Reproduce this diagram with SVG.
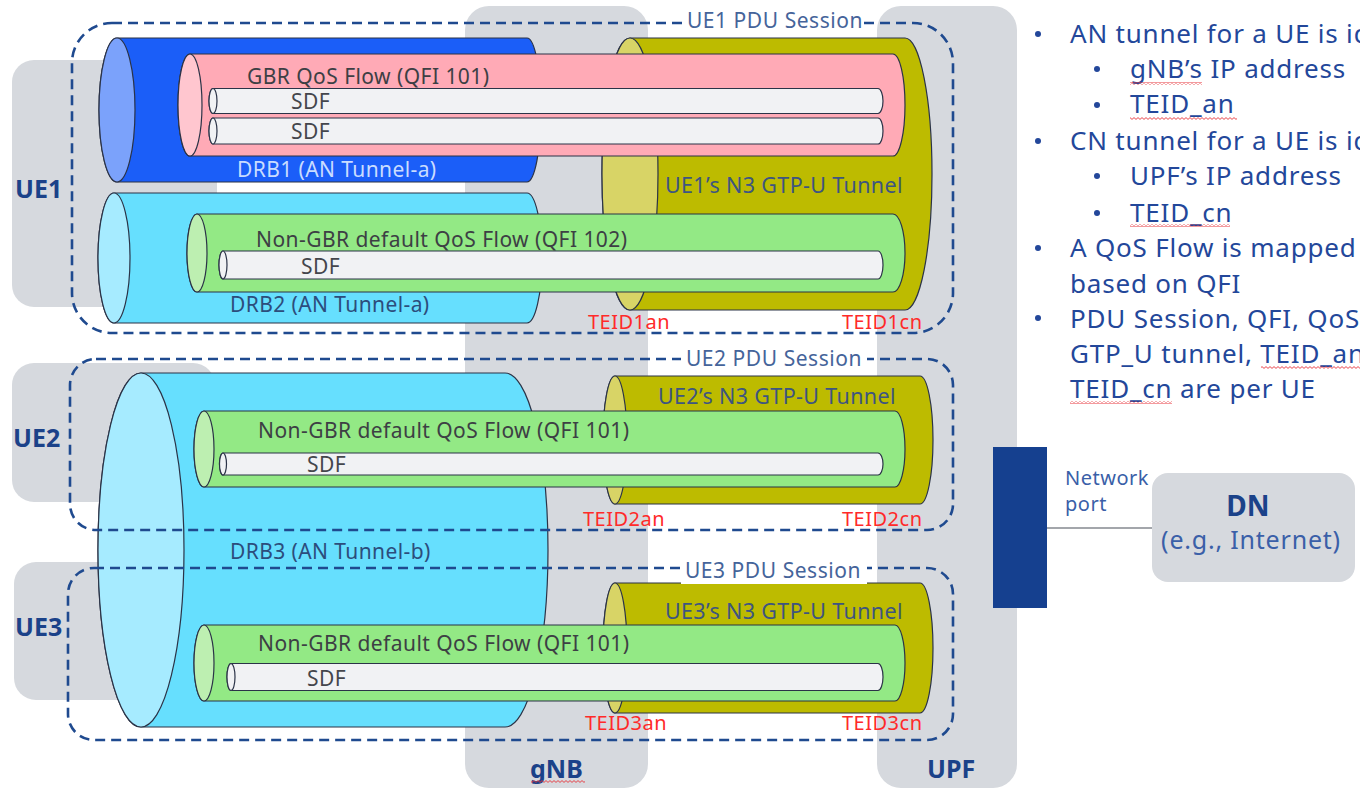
<svg xmlns="http://www.w3.org/2000/svg" width="1360" height="790" viewBox="0 0 1360 790">
  <defs>
    <pattern id="squiggle" width="4" height="3" patternUnits="userSpaceOnUse">
      <path d="M0 2.4 L2 0.6 L4 2.4" fill="none" stroke="#e8333a" stroke-width="0.9"/>
    </pattern>
  </defs>
  <style>
    text { font-family: "Noto Sans", "Open Sans", "DejaVu Sans", sans-serif; }
    .panel { fill: #d6d9de; }
    .edge { stroke: #2b3347; stroke-width: 1.2; }
    .drbA { fill: #1b5ef8; }
    .drbA-cap { fill: #7ba2fb; }
    .drbB { fill: #66dffe; }
    .drbB-cap { fill: #a6ebff; }
    .n3 { fill: #bdbb00; }
    .n3-cap { fill: #d8d466; }
    .gbr { fill: #ffaab6; }
    .gbr-cap { fill: #ffc6cf; }
    .ngbr { fill: #93e985; }
    .ngbr-cap { fill: #bdefb1; }
    .sdf { fill: #f1f2f4; }
    .session { fill: none; stroke: #1f4a8f; stroke-width: 2.6; stroke-dasharray: 10 6; }
    .sess-bg { fill: #ffffff; }
    .sess-label { font-size: 21px; letter-spacing: 0.55px; fill: #45649a; }
    .flow-label { font-size: 21px; letter-spacing: 0.45px; fill: #3d3f44; }
    .sdf-label { font-size: 21px; letter-spacing: 0.4px; fill: #44464c; }
    .drb-label { font-size: 21px; letter-spacing: 0.4px; fill: #2c4d7c; }
    .drb-label-light { font-size: 21px; letter-spacing: 0.4px; fill: #c9dcff; }
    .n3-label { font-size: 21.5px; letter-spacing: 0.35px; fill: #3d5580; }
    .teid { font-size: 20px; letter-spacing: 0.5px; fill: #ff2a2a; }
    .ue-label { font-size: 25px; font-weight: bold; fill: #1b4289; }
    .note { font-size: 26px; letter-spacing: 0.8px; fill: #23479a; }
    .bullet { fill: #23479a; }
    .squig { fill: url(#squiggle); }
  </style>

  <!-- grey background panels -->
  <g id="ue1">
    <rect class="panel" x="12" y="60" width="205" height="247" rx="22"/>
  </g>
  <g id="ue2">
    <rect class="panel" x="12" y="363" width="203" height="139" rx="22"/>
  </g>
  <g id="ue3">
    <rect class="panel" x="14" y="562" width="200" height="138" rx="22"/>
  </g>
  <g id="gnb">
    <rect class="panel" x="465" y="6" width="183" height="782" rx="24"/>
  </g>
  <g id="upf">
    <rect class="panel" x="877" y="6" width="140" height="782" rx="24"/>
  </g>
  <g id="dn">
    <rect class="panel" x="1152" y="473" width="203" height="109" rx="16"/>
    <text x="1248" y="516" text-anchor="middle" font-size="28" font-weight="bold" fill="#1b4289">DN</text>
    <text x="1251" y="549" text-anchor="middle" font-size="25" letter-spacing="0.8" fill="#3a5fa8">(e.g., Internet)</text>
  </g>

  <!-- radio bearers -->
  <g id="drb1">
    <path class="drbA edge" d="M117 38 H527 A14 72 0 0 1 527 182 H117 A18 72 0 0 1 117 38 Z"/>
    <ellipse class="drbA-cap edge" cx="117" cy="110" rx="18" ry="72"/>
  </g>
  <g id="drb2">
    <path class="drbB edge" d="M114 193 H527 A15 65 0 0 1 527 323 H114 A16 65 0 0 1 114 193 Z"/>
    <ellipse class="drbB-cap edge" cx="114" cy="258" rx="16" ry="65"/>
  </g>
  <g id="drb3">
    <path class="drbB edge" d="M141 373 H505 A43 177 0 0 1 505 727 H141 A43 177 0 0 1 141 373 Z"/>
    <ellipse class="drbB-cap edge" cx="141" cy="550" rx="43" ry="177"/>
  </g>

  <!-- N3 GTP-U tunnels -->
  <g id="n3-ue1">
    <path class="n3 edge" d="M630 38 H905 A27 136 0 0 1 905 310 H630 A28 136 0 0 1 630 38 Z"/>
    <ellipse class="n3-cap edge" cx="630" cy="174" rx="28" ry="136"/>
  </g>
  <g id="n3-ue2">
    <path class="n3 edge" d="M615 376 H920 A13 64 0 0 1 920 504 H615 A12 64 0 0 1 615 376 Z"/>
    <ellipse class="n3-cap edge" cx="615" cy="440" rx="12" ry="64"/>
  </g>
  <g id="n3-ue3">
    <path class="n3 edge" d="M615 583 H920 A13 65 0 0 1 920 713 H615 A12 65 0 0 1 615 583 Z"/>
    <ellipse class="n3-cap edge" cx="615" cy="648" rx="12" ry="65"/>
  </g>

  <!-- QoS flows and SDFs -->
  <g id="flow-ue1-gbr">
    <path class="gbr edge" d="M190 54 H893 A12 51 0 0 1 893 156 H190 A12 51 0 0 1 190 54 Z"/>
    <ellipse class="gbr-cap edge" cx="190" cy="105" rx="12" ry="51"/>
  </g>
  <g id="sdf-ue1-a">
    <path class="sdf edge" d="M213 88.5 H878 A5 12.5 0 0 1 878 113.5 H213 A4 12.5 0 0 1 213 88.5 Z"/>
    <ellipse class="sdf edge" cx="213" cy="101" rx="4" ry="12.5"/>
  </g>
  <g id="sdf-ue1-b">
    <path class="sdf edge" d="M213 118 H878 A5 13 0 0 1 878 144 H213 A4 13 0 0 1 213 118 Z"/>
    <ellipse class="sdf edge" cx="213" cy="131" rx="4" ry="13"/>
  </g>
  <g id="flow-ue1-ngbr">
    <path class="ngbr edge" d="M197 214 H893 A12 39 0 0 1 893 292 H197 A10 39 0 0 1 197 214 Z"/>
    <ellipse class="ngbr-cap edge" cx="197" cy="253" rx="10" ry="39"/>
  </g>
  <g id="sdf-ue1-c">
    <path class="sdf edge" d="M223 251 H878 A5 14 0 0 1 878 279 H223 A4 14 0 0 1 223 251 Z"/>
    <ellipse class="sdf edge" cx="223" cy="265" rx="4" ry="14"/>
  </g>
  <g id="flow-ue2">
    <path class="ngbr edge" d="M204 411 H895 A10 38 0 0 1 895 487 H204 A10 38 0 0 1 204 411 Z"/>
    <ellipse class="ngbr-cap edge" cx="204" cy="449" rx="10" ry="38"/>
  </g>
  <g id="sdf-ue2">
    <path class="sdf edge" d="M223 453 H878 A5 11 0 0 1 878 475 H223 A3.5 11 0 0 1 223 453 Z"/>
    <ellipse class="sdf edge" cx="223" cy="464" rx="3.5" ry="11"/>
  </g>
  <g id="flow-ue3">
    <path class="ngbr edge" d="M204 625 H895 A10 38 0 0 1 895 701 H204 A10 38 0 0 1 204 625 Z"/>
    <ellipse class="ngbr-cap edge" cx="204" cy="663" rx="10" ry="38"/>
  </g>
  <g id="sdf-ue3">
    <path class="sdf edge" d="M231 663.5 H878 A5 13.5 0 0 1 878 690.5 H231 A4 13.5 0 0 1 231 663.5 Z"/>
    <ellipse class="sdf edge" cx="231" cy="677" rx="4" ry="13.5"/>
  </g>

  <!-- labels inside the pipes -->
  <g id="pipe-labels">
    <text class="flow-label" x="247" y="84">GBR QoS Flow (QFI 101)</text>
    <text class="sdf-label" x="291" y="109">SDF</text>
    <text class="sdf-label" x="291" y="139">SDF</text>
    <text class="drb-label-light" x="237" y="177">DRB1 (AN Tunnel-a)</text>
    <text class="n3-label" x="665" y="193">UE1’s N3 GTP-U Tunnel</text>
    <text class="flow-label" x="256" y="247">Non-GBR default QoS Flow (QFI 102)</text>
    <text class="sdf-label" x="301" y="274">SDF</text>
    <text class="drb-label" x="230" y="312">DRB2 (AN Tunnel-a)</text>
    <text class="n3-label" x="658" y="404">UE2’s N3 GTP-U Tunnel</text>
    <text class="flow-label" x="258" y="438">Non-GBR default QoS Flow (QFI 101)</text>
    <text class="sdf-label" x="307" y="472">SDF</text>
    <text class="drb-label" x="230" y="559">DRB3 (AN Tunnel-b)</text>
    <text class="n3-label" x="665" y="619">UE3’s N3 GTP-U Tunnel</text>
    <text class="flow-label" x="258" y="651">Non-GBR default QoS Flow (QFI 101)</text>
    <text class="sdf-label" x="307" y="686">SDF</text>
  </g>

  <!-- PDU session outlines -->
  <g id="session-ue1">
    <rect class="session" x="72" y="23" width="881" height="310" rx="40"/>
    <rect class="sess-bg" x="686" y="10" width="178" height="26"/>
    <text class="sess-label" x="775" y="28" text-anchor="middle">UE1 PDU Session</text>
  </g>
  <g id="session-ue2">
    <rect class="session" x="70" y="359" width="883" height="171" rx="26"/>
    <rect class="sess-bg" x="681" y="347" width="186" height="26"/>
    <text class="sess-label" x="774" y="366" text-anchor="middle">UE2 PDU Session</text>
  </g>
  <g id="session-ue3">
    <rect class="session" x="68" y="568" width="885" height="172" rx="26"/>
    <rect class="sess-bg" x="681" y="557" width="186" height="27"/>
    <text class="sess-label" x="773" y="578" text-anchor="middle">UE3 PDU Session</text>
  </g>

  <!-- tunnel endpoint ids -->
  <g id="teids">
    <text class="teid" x="588" y="329">TEID1an</text>
    <text class="teid" x="842" y="329">TEID1cn</text>
    <text class="teid" x="583" y="526">TEID2an</text>
    <text class="teid" x="842" y="526">TEID2cn</text>
    <text class="teid" x="585" y="730">TEID3an</text>
    <text class="teid" x="842" y="730">TEID3cn</text>
  </g>

  <!-- entity names -->
  <g id="entity-labels">
    <text class="ue-label" x="15" y="198">UE1</text>
    <text class="ue-label" x="13" y="447">UE2</text>
    <text class="ue-label" x="15" y="636">UE3</text>
    <text class="ue-label" x="530" y="778">gNB</text>
    <rect class="squig" x="531" y="780" width="54" height="3"/>
    <text class="ue-label" x="927" y="778">UPF</text>
  </g>

  <!-- UPF network port -->
  <g id="network-port">
    <rect x="993" y="447" width="54" height="161" fill="#15408f"/>
    <text x="1065" y="485" font-size="20" letter-spacing="0.5" fill="#3a5fa8">Network</text>
    <text x="1065" y="511" font-size="20" letter-spacing="0.5" fill="#3a5fa8">port</text>
  </g>

  <g id="connectors">
    <line x1="1047" y1="528" x2="1152" y2="528" stroke="#a3a6ab" stroke-width="2"/>
  </g>

  <!-- notes -->
  <g id="notes">
    <circle class="bullet" cx="1038" cy="34" r="3"/>
    <text class="note" x="1070" y="43">AN tunnel for a UE is identified by</text>
    <circle class="bullet" cx="1097" cy="69" r="3"/>
    <text class="note" x="1130" y="78">gNB’s IP address</text>
    <rect class="squig" x="1130" y="82" width="72" height="3"/>
    <circle class="bullet" cx="1097" cy="105" r="3"/>
    <text class="note" x="1130" y="113">TEID_an</text>
    <rect class="squig" x="1130" y="117" width="107" height="3"/>
    <circle class="bullet" cx="1038" cy="141" r="3"/>
    <text class="note" x="1070" y="150">CN tunnel for a UE is identified by</text>
    <circle class="bullet" cx="1097" cy="176" r="3"/>
    <text class="note" x="1130" y="185">UPF’s IP address</text>
    <circle class="bullet" cx="1097" cy="213" r="3"/>
    <text class="note" x="1130" y="222">TEID_cn</text>
    <rect class="squig" x="1130" y="224" width="100" height="3"/>
    <circle class="bullet" cx="1038" cy="248" r="3"/>
    <text class="note" x="1070" y="257">A QoS Flow is mapped to a DRB</text>
    <text class="note" x="1070" y="293">based on QFI</text>
    <circle class="bullet" cx="1038" cy="318" r="3"/>
    <text class="note" x="1070" y="328">PDU Session, QFI, QoS Flow,</text>
    <text class="note" x="1070" y="363">GTP_U tunnel, TEID_an and</text>
    <rect class="squig" x="1261" y="366" width="99" height="3"/>
    <text class="note" x="1070" y="398">TEID_cn are per UE</text>
    <rect class="squig" x="1070" y="401" width="102" height="3"/>
  </g>
</svg>
